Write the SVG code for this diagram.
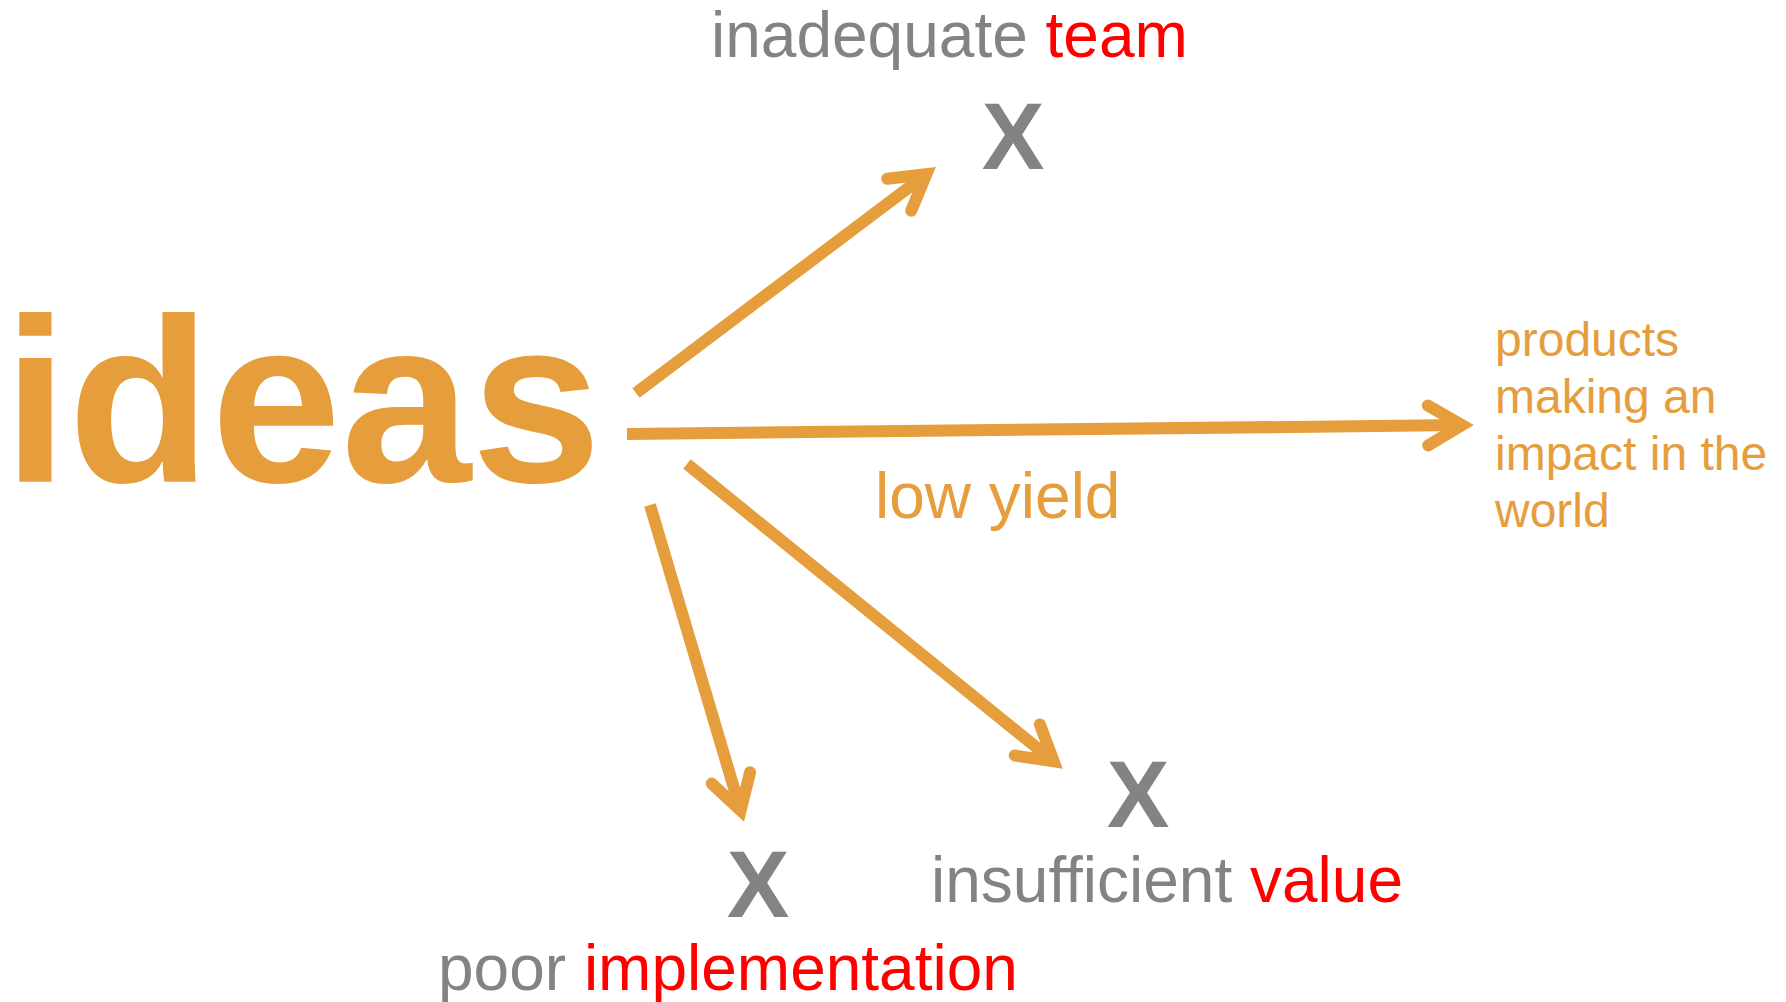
<svg xmlns="http://www.w3.org/2000/svg" width="1786" height="1002" viewBox="0 0 1786 1002">
  <style>
    text { font-family: "Liberation Sans", Arial, sans-serif; }
    .orange { fill: #E69D3C; }
    .gray { fill: #838383; }
    .red { fill: #FF0000; }
    .lbl { font-size: 64px; }
    .x { font-size: 94px; font-weight: bold; fill: #838383; text-anchor: middle; }
    .conn { fill: none; stroke: #E69D3C; stroke-width: 12; stroke-linecap: butt; }
  </style>
  <defs>
    <marker id="ah" markerUnits="userSpaceOnUse" orient="auto" refX="0" refY="0" markerWidth="1" markerHeight="1" overflow="visible">
      <path d="M -34,-20 L 0,0 L -34,20" fill="none" stroke="#E69D3C" stroke-width="12" stroke-linecap="round" stroke-linejoin="miter" stroke-miterlimit="10"/>
    </marker>
  </defs>
  <rect width="1786" height="1002" fill="#FFFFFF"/>

  <g id="connectors">
    <path class="conn" d="M 636,393 L 926.4,174.2" marker-end="url(#ah)"/>
    <path class="conn" d="M 627,434 L 1462,425.1" marker-end="url(#ah)"/>
    <path class="conn" d="M 687,464 L 1053.7,761.4" marker-end="url(#ah)"/>
    <path class="conn" d="M 650,505 L 740.6,810.5" marker-end="url(#ah)"/>
    <text class="orange lbl" x="875" y="518">low yield</text>
  </g>

  <g id="ideas">
    <text class="orange" x="3" y="482" font-size="234" font-weight="bold">ideas</text>
  </g>

  <g id="team">
    <text class="lbl" x="711" y="57"><tspan class="gray">inadequate </tspan><tspan class="red">team</tspan></text>
    <text class="x" x="1013" y="169">X</text>
  </g>

  <g id="value">
    <text class="x" x="1138" y="827">X</text>
    <text class="lbl" x="931" y="902"><tspan class="gray">insufficient </tspan><tspan class="red">value</tspan></text>
  </g>

  <g id="implementation">
    <text class="x" x="758" y="917">X</text>
    <text class="lbl" x="438" y="990"><tspan class="gray">poor </tspan><tspan class="red">implementation</tspan></text>
  </g>

  <g id="products">
    <text class="orange" font-size="48" x="1495" y="356">products</text>
    <text class="orange" font-size="48" x="1495" y="413">making an</text>
    <text class="orange" font-size="48" x="1495" y="470">impact in the</text>
    <text class="orange" font-size="48" x="1495" y="527">world</text>
  </g>
</svg>
